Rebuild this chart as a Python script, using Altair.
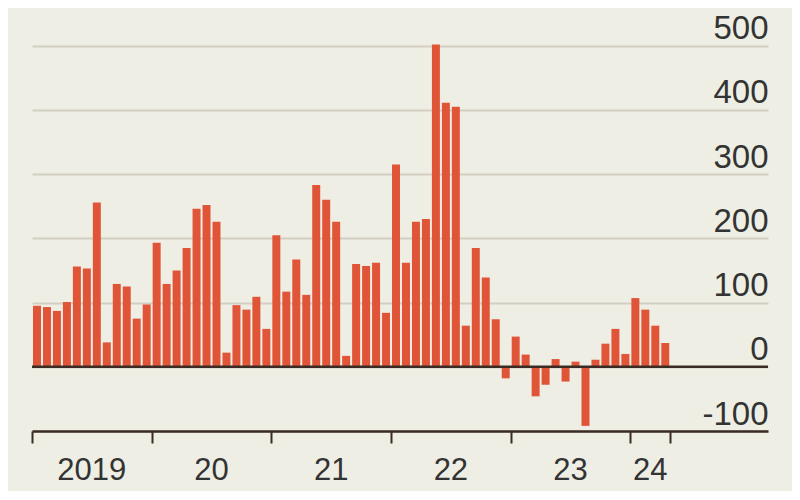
import altair as alt
import pandas as pd

# Monthly values, Jan 2019 .. Apr 2024
values_2019 = [95, 93, 87, 101, 156, 153, 256, 38, 129, 125, 75, 97]
values_2020 = [193, 129, 150, 185, 246, 252, 226, 22, 96, 89, 109, 59]
values_2021 = [205, 117, 167, 112, 283, 260, 226, 17, 160, 157, 162, 84]
values_2022 = [315, 162, 226, 230, 502, 411, 405, 64, 185, 139, 74, -18]
values_2023 = [47, 19, -46, -28, 12, -23, 8, -92, 11, 36, 59, 20]
values_2024 = [107, 89, 64, 37]

year_labels = ["2019", "20", "21", "22", "23", "24"]
year_label_pos = [6, 18, 30, 42, 54, 62]      # month index of label centre
tick_months = [0, 12, 24, 36, 48, 60, 64]
y_ticks = [-100, 0, 100, 200, 300, 400, 500]

all_values = values_2019 + values_2020 + values_2021 + values_2022 + values_2023 + values_2024
bars_df = pd.DataFrame({"m": list(range(len(all_values))), "v": all_values})
labels_df = pd.DataFrame({"m": year_label_pos, "t": year_labels})
zero_df = pd.DataFrame({"v": [0]})

BG = "#EEEEE4"
BAR = "#E05438"
DARK = "#3A2C24"
GRID = "#D3CEC2"
TXT = "#333333"

xscale = alt.Scale(domain=[0, 73.8], nice=False, zero=False)
yscale = alt.Scale(domain=[-100, 540], nice=False)

bars = alt.Chart(bars_df).transform_calculate(
    x0="datum.m + 0.1", x1="datum.m + 0.9"
).mark_bar(color=BAR).encode(
    x=alt.X("x0:Q", scale=xscale,
            axis=alt.Axis(values=tick_months, labels=False, title=None, grid=False,
                          domainColor=DARK, domainWidth=2.5, tickColor=DARK,
                          tickWidth=2, tickSize=12, orient="bottom")),
    x2="x1:Q",
    y=alt.Y("v:Q", scale=yscale,
            axis=alt.Axis(orient="right", values=y_ticks, title=None, domain=False,
                          ticks=False, tickSize=0, labelPadding=0, labelAlign="right",
                          labelBaseline="alphabetic", labelOffset=-7, labelFontSize=33,
                          labelFont="Liberation Sans", labelColor=TXT,
                          labelExpr="'' + datum.value",
                          gridColor=GRID, gridWidth=2)),
    y2=alt.Y2(datum=0),
)

zero = alt.Chart(zero_df).mark_rule(color=DARK, strokeWidth=2.5).encode(
    y=alt.Y("v:Q", scale=yscale)
)

labels = alt.Chart(labels_df).mark_text(
    font="Liberation Sans", fontSize=31, color=TXT, align="center", baseline="alphabetic"
).encode(
    x=alt.X("m:Q", scale=xscale),
    text="t:N",
    y=alt.value(460),
)

chart = alt.layer(bars, zero, labels).properties(
    width=736, height=411, background=BG,
    autosize=alt.AutoSizeParams(type="none"),
    padding={"left": 24, "top": 12, "right": 24, "bottom": 60},
).configure_view(stroke=None)

chart.save("out.html", embed_options={"renderer": "svg", "actions": False})
